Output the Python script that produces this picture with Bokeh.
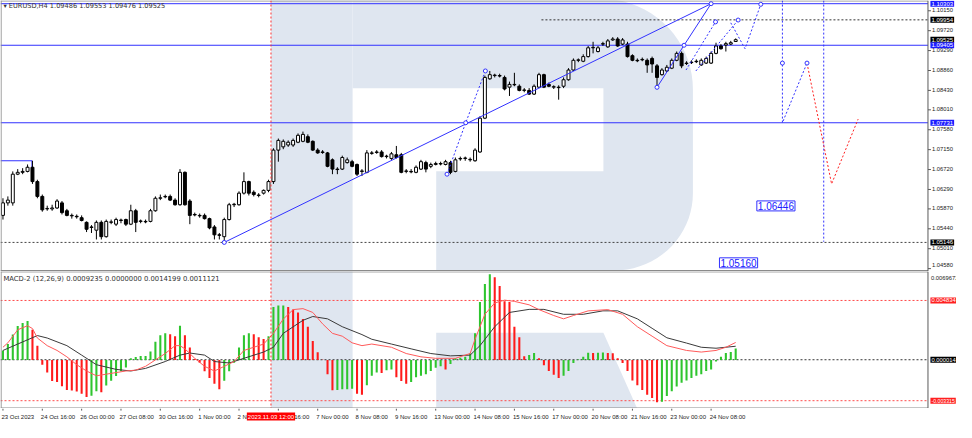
import numpy as np
from bokeh.plotting import figure
from bokeh.models import Range1d, Span, Label, ColumnDataSource
from bokeh.layouts import column
from bokeh.embed import file_html
from bokeh.resources import INLINE
from bokeh.core.properties import value

# ---------------- data ----------------
opens = [1.0573,1.0600,1.0600,1.0662,1.0666,1.0668,1.0677,1.0646,1.0614,1.0587,
1.0587,1.0589,1.0600,1.0583,1.0573,1.0571,1.0568,1.0558,1.0548,1.0541,
1.0558,1.0527,1.0558,1.0554,1.0562,1.0564,1.0554,1.0583,1.0560,1.0560,
1.0560,1.0583,1.0610,1.0614,1.0614,1.0606,1.0596,1.0666,1.0604,1.0575,
1.0573,1.0573,1.0566,1.0548,1.0531,1.0527,1.0564,1.0596,1.0596,1.0621,
1.0646,1.0623,1.0616,1.0621,1.0627,1.0646,1.0714,1.0721,1.0725,1.0725,
1.0731,1.0733,1.0743,1.0733,1.0714,1.0710,1.0708,1.0693,1.0673,1.0673,
1.0687,1.0689,1.0683,1.0668,1.0666,1.0708,1.0710,1.0710,1.0700,1.0696,
1.0704,1.0704,1.0668,1.0668,1.0666,1.0673,1.0687,1.0679,1.0683,1.0685,
1.0683,1.0687,1.0668,1.0696,1.0696,1.0693,1.0691,1.0710,1.0783,1.0868,
1.0875,1.0875,1.0871,1.0850,1.0856,1.0852,1.0843,1.0843,1.0835,1.0850,
1.0877,1.0856,1.0850,1.0850,1.0852,1.0866,1.0887,1.0908,1.0906,1.0916,
1.0935,1.0927,1.0943,1.0937,1.0952,1.0954,1.0943,1.0943,1.0918,1.0908,
1.0910,1.0908,1.0912,1.0896,1.0877,1.0885,1.0891,1.0908,1.0923,1.0902,
1.0904,1.0906,1.0898,1.0902,1.0902,1.0923,1.0939,1.0941,1.0943,1.09486]
highs = [1.0610,1.0614,1.0668,1.0673,1.0675,1.0683,1.0691,1.0650,1.0618,1.0594,
1.0596,1.0608,1.0604,1.0587,1.0577,1.0575,1.0573,1.0560,1.0552,1.0562,
1.0562,1.0564,1.0564,1.0568,1.0566,1.0566,1.0596,1.0587,1.0564,1.0564,
1.0587,1.0614,1.0618,1.0618,1.0618,1.0610,1.0673,1.0668,1.0608,1.0579,
1.0577,1.0577,1.0568,1.0552,1.0535,1.0568,1.0600,1.0600,1.0625,1.0666,
1.0648,1.0627,1.0621,1.0629,1.0650,1.0718,1.0739,1.0737,1.0735,1.0739,
1.0750,1.0754,1.0748,1.0735,1.0718,1.0714,1.0710,1.0696,1.0677,1.0702,
1.0698,1.0693,1.0685,1.0673,1.0714,1.0712,1.0714,1.0714,1.0704,1.0710,
1.0723,1.0708,1.0673,1.0673,1.0681,1.0693,1.0691,1.0687,1.0689,1.0689,
1.0693,1.0691,1.0698,1.0700,1.0700,1.0698,1.0718,1.0787,1.0875,1.0885,
1.0879,1.0879,1.0875,1.0862,1.0881,1.0856,1.0848,1.0848,1.0856,1.0881,
1.0879,1.0860,1.0854,1.0854,1.0871,1.0891,1.0912,1.0912,1.0921,1.0939,
1.0948,1.0939,1.0948,1.0954,1.0958,1.0958,1.0956,1.0948,1.0921,1.0912,
1.0914,1.0912,1.0916,1.0900,1.0891,1.0898,1.0912,1.0927,1.0927,1.0906,
1.0908,1.0910,1.0912,1.0916,1.0927,1.0946,1.0943,1.0948,1.0950,1.09553]
lows = [1.0564,1.0594,1.0594,1.0660,1.0662,1.0666,1.0641,1.0610,1.0581,1.0583,
1.0583,1.0587,1.0575,1.0571,1.0566,1.0566,1.0560,1.0537,1.0535,1.0521,
1.0521,1.0525,1.0554,1.0550,1.0556,1.0550,1.0552,1.0537,1.0556,1.0556,
1.0558,1.0581,1.0606,1.0610,1.0604,1.0594,1.0594,1.0594,1.0554,1.0571,
1.0568,1.0564,1.0543,1.0521,1.0521,1.05146,1.0562,1.0591,1.0594,1.0618,
1.0616,1.0614,1.0612,1.0618,1.0623,1.0641,1.0689,1.0716,1.0721,1.0721,
1.0729,1.0731,1.0729,1.0712,1.0706,1.0706,1.0677,1.0662,1.0662,1.0671,
1.0685,1.0677,1.0658,1.0658,1.0664,1.0704,1.0706,1.0698,1.0696,1.0693,
1.0696,1.0664,1.0664,1.0664,1.0664,1.0671,1.0666,1.0675,1.0681,1.0681,
1.0681,1.0662,1.0666,1.0691,1.0691,1.0689,1.0689,1.0708,1.0781,1.0866,
1.0871,1.0871,1.0843,1.0831,1.0852,1.0841,1.0839,1.0833,1.0833,1.0848,
1.0848,1.0850,1.0846,1.0823,1.0848,1.0864,1.0885,1.0904,1.0904,1.0914,
1.0923,1.0925,1.0939,1.0935,1.0950,1.0937,1.0941,1.0914,1.0906,1.0904,
1.0906,1.0881,1.0881,1.0850,1.0875,1.0883,1.0889,1.0906,1.0891,1.0898,
1.0900,1.0902,1.0896,1.0900,1.0900,1.0921,1.0931,1.0927,1.0941,1.09476]
closes = [1.0600,1.0606,1.0662,1.0666,1.0668,1.0677,1.0646,1.0614,1.0585,1.0588,
1.0589,1.0604,1.0579,1.0573,1.0572,1.0570,1.0562,1.0543,1.0547,1.0558,
1.0527,1.0560,1.0559,1.0564,1.0563,1.0554,1.0583,1.0558,1.0561,1.0559,
1.0583,1.0610,1.0611,1.0613,1.0606,1.0596,1.0666,1.0596,1.0573,1.0574,
1.0572,1.0566,1.0546,1.0531,1.0530,1.0564,1.0596,1.0597,1.0621,1.0646,
1.0621,1.0618,1.0617,1.0627,1.0646,1.0714,1.0735,1.0733,1.0731,1.0735,
1.0746,1.0748,1.0731,1.0714,1.0708,1.0709,1.0679,1.0673,1.0672,1.0698,
1.0693,1.0679,1.0662,1.0669,1.0708,1.0707,1.0709,1.0700,1.0701,1.0706,
1.0698,1.0666,1.0669,1.0667,1.0677,1.0689,1.0673,1.0683,1.0685,1.0684,
1.0689,1.0666,1.0693,1.0695,1.0697,1.0694,1.0714,1.0783,1.0871,1.0877,
1.0876,1.0874,1.0846,1.0856,1.0855,1.0843,1.0844,1.0835,1.0852,1.0877,
1.0850,1.0852,1.0851,1.0849,1.0866,1.0887,1.0908,1.0909,1.0916,1.0935,
1.0936,1.0935,1.0944,1.0950,1.0954,1.0939,1.0952,1.0916,1.0908,1.0907,
1.0909,1.0898,1.0900,1.0871,1.0887,1.0893,1.0908,1.0923,1.0896,1.0901,
1.0903,1.0905,1.0908,1.0912,1.0923,1.0939,1.0933,1.0944,1.0946,1.09525]

macd_hist = [0.00077,0.00129,0.00206,0.00276,0.00301,0.00317,0.00245,0.00116,-0.00039,-0.00103,
-0.00172,-0.00180,-0.00214,-0.00245,-0.00249,-0.00257,-0.00276,-0.00301,-0.00291,-0.00255,
-0.00262,-0.00208,-0.00170,-0.00131,-0.00093,-0.00062,0.00013,0.00023,0.00031,0.00032,
0.00069,0.00147,0.00201,0.00216,0.00208,0.00193,0.00278,0.00201,0.00100,0.00008,
-0.00023,-0.00093,-0.00147,-0.00193,-0.00239,-0.00170,-0.00093,-0.00023,0.00100,0.00201,
0.00216,0.00208,0.00185,0.00170,0.00193,0.00430,0.00442,0.00443,0.00430,0.00409,
0.00386,0.00332,0.00270,0.00154,0.00062,0.00002,-0.00116,-0.00247,-0.00245,-0.00239,
-0.00238,-0.00235,-0.00276,-0.00283,-0.00206,-0.00129,-0.00103,-0.00106,-0.00085,-0.00077,
-0.00141,-0.00172,-0.00193,-0.00180,-0.00141,-0.00129,-0.00116,-0.00090,-0.00064,-0.00052,
-0.00077,-0.00033,0.00013,0.00018,0.00025,0.00052,0.00216,0.00471,0.00618,0.0069671,
0.00672,0.00602,0.00476,0.00471,0.00270,0.00185,0.00030,0.00039,0.00056,0.00013,
-0.00044,-0.00090,-0.00121,-0.00147,-0.00129,-0.00090,-0.00025,0.00004,0.00025,0.00059,
0.00056,0.00059,0.00060,0.00056,0.00055,0.00013,-0.00025,-0.00090,-0.00168,-0.00206,
-0.00245,-0.00283,-0.00309,-0.00345,-0.00340,-0.00293,-0.00255,-0.00216,-0.00185,-0.00168,
-0.00147,-0.00129,-0.00116,-0.00090,-0.00077,-0.00013,0.00025,0.00056,0.00064,0.0009235]

macd_main_x = [0,1,3,5,6,7,9,11,13,15,17,19,21,23,25,27,29,31,33,35,36,37,39,41,43,45,47,49,51,53,
               55,57,59,61,63,65,67,69,71,73,75,79,82,85,88,92,95,96,98,100,102,104,107,109,112,114,
               116,119,123,126,129,132,135,139,142,145,147,149]
macd_main = [0.00103,0.00139,0.00245,0.00278,0.00255,0.00178,0.00116,0.00077,0.00025,-0.00039,
             -0.00090,-0.00129,-0.00116,-0.00103,-0.00090,-0.00083,-0.00052,0.00000,0.00052,0.00116,
             0.00116,0.00090,0.00013,-0.00052,-0.00090,-0.00052,-0.00013,0.00077,0.00103,0.00129,
             0.00216,0.00332,0.00409,0.00417,0.00386,0.00293,0.00216,0.00193,0.00139,0.00116,
             0.00129,0.00103,0.00052,0.00025,0.00013,0.00013,0.00052,0.00168,0.00371,0.00463,
             0.00486,0.00476,0.00448,0.00409,0.00361,0.00334,0.00361,0.00399,0.00409,0.00371,
             0.00270,0.00193,0.00116,0.00077,0.00064,0.00077,0.00103,0.0014199]
macd_signal_x = [0,3,7,9,13,16,19,23,26,29,33,36,38,41,43,46,49,53,55,57,61,63,66,69,73,75,79,83,87,91,
                 95,97,100,103,107,110,114,118,122,125,129,132,135,139,142,145,149]
macd_signal = [0.00077,0.00129,0.00198,0.00178,0.00116,0.00039,-0.00039,-0.00077,-0.00090,-0.00069,
               -0.00013,0.00039,0.00056,0.00039,-0.00013,-0.00025,0.00013,0.00064,0.00103,0.00216,
               0.00322,0.00353,0.00334,0.00270,0.00206,0.00168,0.00129,0.00090,0.00052,0.00033,
               0.00039,0.00116,0.00270,0.00386,0.00411,0.00411,0.00371,0.00371,0.00399,0.00399,
               0.00334,0.00257,0.00180,0.00137,0.00103,0.00095,0.0011121]

price_ticks = [1.10150,1.09720,1.09290,1.08860,1.08430,1.08010,1.07580,1.07150,
               1.06720,1.06290,1.05870,1.05440,1.05010,1.04580]
macd_top_value = 0.0069671
time_tick_idx = [0,8,16,24,32,40,48,56,64,72,80,88,96,104,112,120,128,136,144]
time_tick_labels = ["23 Oct 2023","24 Oct 16:00","26 Oct 00:00","27 Oct 08:00","30 Oct 16:00",
                    "1 Nov 00:00","2 Nov 08:00","3 Nov 16:00","7 Nov 00:00","8 Nov 08:00",
                    "9 Nov 16:00","13 Nov 00:00","14 Nov 08:00","15 Nov 16:00","17 Nov 00:00",
                    "20 Nov 08:00","21 Nov 16:00","23 Nov 00:00","24 Nov 08:00"]

# horizontal levels / drawing objects (bar index, price)
blue_levels = [1.10303, 1.09405, 1.07731]
dotted_level_hi = 1.09954
dotted_level_lo = 1.05146
macd_levels_red = [0.004834, -0.003315]
macd_level_zero = 0.000014
crosshair_bar = 54.5
trend_x = [45, 144];            trend_y = [1.05146, 1.10303]
wave_x = [133, 138.5, 144];     wave_y = [1.08497, 1.09405, 1.10303]
proj1_x = [90.3, 94.1, 98.1];   proj1_y = [1.0662, 1.07731, 1.0885]
fan_a_x = [138.9, 144.9];       fan_a_y = [1.0887, 1.0991]
fan_b_x = [140.9, 149.5];       fan_b_y = [1.0885, 1.0995]
zig_x = [148.0, 150.9, 154.1];  zig_y = [1.0989, 1.0933, 1.10289]
vert1_x = [158.5, 158.5, 163.5]; vert1_y = [1.1037, 1.07731, 1.0902]
red_x = [163.5, 168.5, 173.9];   red_y = [1.0902, 1.0641, 1.0781]
vert2_x = [166.9, 166.9];        vert2_y = [1.1037, 1.0516]
old_level_x = [-0.5, 5.9, 5.9];  old_level_y = [1.0691, 1.0691, 1.0677]

# --------------- helpers: reference-pixel grid -> data (decoration placement only) ---------------
def px_x(x):
    return (x - 2.5) / 5.0
def px_p(y):
    return 1.10372 - y / 4800.0
def px_m(y):
    return (374.0 - y) * 0.000079

FONT = "Liberation Sans"
W = 956
H1, H2, H3 = 271, 137, 14
BLUE = "#3232ff"
BOXBLUE = "#1c1cff"
WM = "#dfe6f0"
AXC = "#5a5a5a"
AX = px_x(943)          # position of the price-scale line
X0 = px_x(0)

xr = Range1d(px_x(0), px_x(972))

def make_fig(h, yr):
    p = figure(width=W, height=h, x_range=xr, y_range=yr, output_backend="svg",
               toolbar_location=None, x_axis_location=None, y_axis_location=None,
               min_border_left=0, min_border_right=0, min_border_top=0, min_border_bottom=0)
    p.grid.visible = False
    p.outline_line_color = None
    p.background_fill_color = "white"
    p.border_fill_color = "white"
    return p

def hline(p, y, color, dash="solid", width=1):
    p.segment(x0=[X0], y0=[y], x1=[AX], y1=[y], line_color=color, line_dash=dash, line_width=width)

def axis_box(p, yv, txt, bg, size="6px"):
    p.add_layout(Label(x=px_x(945.5), y=yv, text=txt, text_font=FONT, text_font_size=size,
                       text_color="white", text_align="left", text_baseline="middle",
                       background_fill_color=bg, padding=1))

# ================= main price pane =================
p1 = make_fig(H1, Range1d(px_p(281), px_p(0)))

# watermark (decorative)
t = np.linspace(0, np.pi / 2, 20)
bowl_x = ([358, 610] + list(610 + 94 * np.sin(t)) + [704] +
          list(624 + 80 * np.cos(t)) + [443, 443, 613, 613, 358])
bowl_y = ([-3, -3] + list(92 - 94 * np.cos(t)) + [200] +
          list(200 + 80 * np.sin(t)) + [290, 177, 177, 91, 91])
p1.patch([px_x(v) for v in bowl_x], [px_p(v) for v in bowl_y], fill_color=WM, line_color=None)
p1.patch([px_x(v) for v in [275, 358, 358, 275]], [px_p(v) for v in [-3, -3, 290, 290]],
         fill_color=WM, line_color=None)

# borders and price-scale line
hline(p1, px_p(0.5), "#8a8a8a")
hline(p1, px_p(280.6), "#8a8a8a", width=2)
p1.add_layout(Span(location=px_x(0.6), dimension="height", line_color="#8a8a8a"))
p1.add_layout(Span(location=AX, dimension="height", line_color=AXC))

for lv in blue_levels:
    hline(p1, lv, BLUE)
p1.segment(x0=[px_x(550)], y0=[dotted_level_hi], x1=[AX], y1=[dotted_level_hi],
           line_color="#333333", line_dash="2 2", line_width=1)
hline(p1, dotted_level_lo, "#444444", dash="2 2")
p1.add_layout(Span(location=crosshair_bar, dimension="height", line_color="#ff3030",
                   line_dash="2 2", line_width=1))
p1.line(old_level_x, old_level_y, line_color=BLUE, line_width=1)

# candles
idx = list(range(len(opens)))
bull = [c >= o for o, c in zip(opens, closes)]
src = ColumnDataSource(dict(
    x=idx, o=opens, h=highs, l=lows, c=closes,
    top=[max(o, c) for o, c in zip(opens, closes)],
    bot=[min(o, c) for o, c in zip(opens, closes)],
    fill=["white" if b else "black" for b in bull]))
p1.segment(x0="x", y0="l", x1="x", y1="h", source=src, line_color="black", line_width=1)
p1.vbar(x="x", width=0.6, top="top", bottom="bot", source=src, fill_color="fill",
        line_color="black", line_width=1)

# drawing objects
p1.line(trend_x, trend_y, line_color=BLUE, line_width=1)
p1.line(wave_x, wave_y, line_color=BLUE, line_width=1)
for xs, ys in [(proj1_x, proj1_y), (fan_a_x, fan_a_y), (fan_b_x, fan_b_y), (zig_x, zig_y),
               (vert1_x, vert1_y), (vert2_x, vert2_y)]:
    p1.line(xs, ys, line_color=BLUE, line_width=1, line_dash="2 2")
p1.line(red_x, red_y, line_color="#ff2020", line_width=1, line_dash="2 2")
dots_x = [trend_x[0], trend_x[1], wave_x[0], wave_x[1], proj1_x[0], proj1_x[1], proj1_x[2],
          fan_a_x[1], fan_b_x[1], zig_x[2], vert1_x[2], vert1_x[0]]
dots_y = [trend_y[0], trend_y[1], wave_y[0], wave_y[1], proj1_y[0], proj1_y[1], proj1_y[2],
          fan_a_y[1], fan_b_y[1], zig_y[2], vert1_y[2], 1.0902]
p1.scatter(dots_x, dots_y, marker="circle", size=4, fill_color="white", line_color=BLUE)

# in-chart labels
p1.add_layout(Label(x=px_x(769), y=px_p(213), text="1.06446", text_font=FONT,
                    text_font_size="10px", text_color="#2020ff", text_baseline="middle",
                    background_fill_color="white", border_line_color=BLUE, padding=1))
p1.add_layout(Label(x=px_x(731), y=px_p(272), text="1.05160", text_font=FONT,
                    text_font_size="10px", text_color="#2020ff", text_baseline="middle",
                    background_fill_color="white", border_line_color=BLUE, padding=1))
p1.add_layout(Label(x=px_x(3), y=px_p(6), text="\u25be EURUSD,H4  1.09486 1.09553 1.09476 1.09525",
                    text_font="DejaVu Sans", text_font_size="6.6px", text_color="#333333",
                    text_baseline="middle"))

# price scale: ticks + labels
tick_src = ColumnDataSource(dict(
    x=[px_x(947)] * len(price_ticks), y=price_ticks,
    text=[f"{v:.5f}" for v in price_ticks],
    dy=[-0.8] * (len(price_ticks) - 1) + [-4.0]))
p1.segment(x0=[AX] * len(price_ticks), y0=price_ticks, x1=[px_x(946)] * len(price_ticks),
           y1=price_ticks, line_color=AXC)
p1.text(x="x", y="y", text="text", y_offset="dy", source=tick_src,
        text_font=value(FONT), text_font_size="5.8px", text_color="#222222",
        text_align="left", text_baseline="middle")
axis_box(p1, blue_levels[0], f"{blue_levels[0]:.5f}", BOXBLUE)
axis_box(p1, dotted_level_hi, f"{dotted_level_hi:.5f}", "black")
axis_box(p1, closes[-1], f"{closes[-1]:.5f}", "black")
axis_box(p1, blue_levels[1], f"{blue_levels[1]:.5f}", BOXBLUE)
axis_box(p1, blue_levels[2], f"{blue_levels[2]:.5f}", BOXBLUE)
axis_box(p1, dotted_level_lo, f"{dotted_level_lo:.5f}", "black")

# ================= MACD pane =================
p2 = make_fig(H2, Range1d(px_m(424), px_m(283)))
p2.patch([px_x(v) for v in [275, 358, 358, 275]], [px_m(v) for v in [270, 270, 440, 440]],
         fill_color=WM, line_color=None)
p2.patch([px_x(v) for v in [443, 613, 650, 443]], [px_m(v) for v in [346, 346, 430, 430]],
         fill_color=WM, line_color=None)

hline(p2, px_m(283.4), "#8a8a8a")
hline(p2, px_m(423.5), "#8a8a8a")
p2.add_layout(Span(location=px_x(0.6), dimension="height", line_color="#8a8a8a"))
p2.add_layout(Span(location=AX, dimension="height", line_color=AXC))

for lv in macd_levels_red:
    hline(p2, lv, "#ff4a4a", dash="2 2")
hline(p2, macd_level_zero, "#333333", dash="2 2")
p2.add_layout(Span(location=crosshair_bar, dimension="height", line_color="#ff3030", line_dash="2 2"))

hcol = []
for i, v in enumerate(macd_hist):
    up = i == 0 or v >= macd_hist[i - 1]
    hcol.append("#2ec52e" if up else "#ff1a1a")
p2.vbar(x=idx, width=0.42, top=macd_hist, bottom=0, fill_color=hcol, line_color=None)
p2.line(macd_signal_x, macd_signal, line_color="#3a3a3a", line_width=1)
p2.line(macd_main_x, macd_main, line_color="#ff5a5a", line_width=1)

p2.add_layout(Label(x=px_x(3), y=px_m(291),
                    text="MACD-2 (12,26,9) 0.0009235 0.0000000 0.0014199 0.0011121",
                    text_font="DejaVu Sans", text_font_size="6.8px", text_color="#333333",
                    text_baseline="middle"))

# top-of-scale value, written just under the pane's upper edge
p2.add_layout(Label(x=px_x(946), y=px_m(289.5), text=f"{macd_top_value:.7f}", text_font=FONT,
                    text_font_size="5.8px", text_color="#222222", text_align="left",
                    text_baseline="alphabetic"))
axis_box(p2, macd_levels_red[0], f"{macd_levels_red[0]:.6f}", "#ff2020", "5.8px")
axis_box(p2, macd_level_zero, f"{macd_level_zero:.6f}", "black", "5.8px")
axis_box(p2, macd_levels_red[1], f"{macd_levels_red[1]:.6f}", "#ff2020", "5.2px")

# ================= time labels strip =================
p3 = make_fig(H3, Range1d(0, 1))
p3.segment(x0=time_tick_idx, y0=[1.0] * len(time_tick_idx), x1=time_tick_idx,
           y1=[0.85] * len(time_tick_idx), line_color=AXC)
p3.text(x=[i - 0.3 for i in time_tick_idx], y=[0.42] * len(time_tick_idx), text=time_tick_labels,
        text_font=value(FONT), text_font_size="6px", text_color="#222222",
        text_align="left", text_baseline="middle")
p3.add_layout(Label(x=crosshair_bar, y=0.42, text="2023.11.03 12:00", text_font=FONT,
                    text_font_size="6px", text_color="white", text_align="center",
                    text_baseline="middle", background_fill_color="#ff0000", padding=1))

layout = column(p1, p2, p3, spacing=0)
open("out.html", "w").write(file_html(layout, INLINE))
